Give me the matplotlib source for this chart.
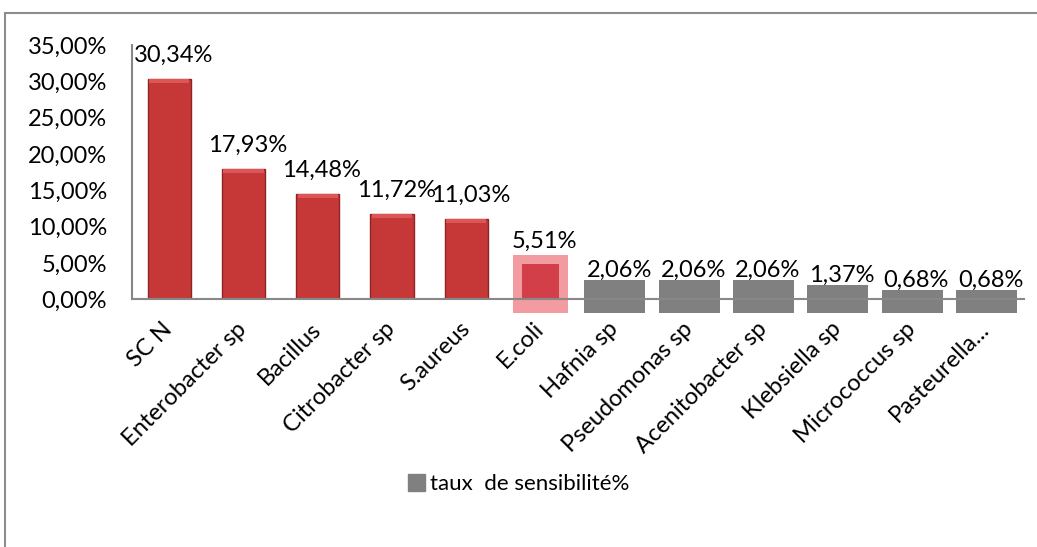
import numpy as np
import matplotlib.pyplot as plt
from matplotlib.patches import Rectangle, Patch
from matplotlib.ticker import FuncFormatter

# data
categories = ['SC N', 'Enterobacter sp', 'Bacillus', 'Citrobacter sp', 'S.aureus', 'E.coli',
              'Hafnia sp', 'Pseudomonas sp', 'Acenitobacter sp', 'Klebsiella sp',
              'Micrococcus sp', 'Pasteurella...']
values = [30.34, 17.93, 14.48, 11.72, 11.03, 5.51, 2.06, 2.06, 2.06, 1.37, 0.68, 0.68]
legend_label = 'taux  de sensibilité%'

plt.rcParams['font.family'] = ['Lato', 'DejaVu Sans']
fs = 17

fig = plt.figure(figsize=(10.37, 5.47), dpi=100)
ax = fig.add_axes([0.1273, 0.4528, 0.8597, 0.4649])

x = np.arange(len(categories))
vals = np.array(values)

# red bars (first five)
red = slice(0, 5)
ax.bar(x[red], vals[red], width=0.58, color='#c63838', edgecolor='#8e2424', linewidth=1.0, zorder=3)
# lighter cap to hint the bevel
ax.bar(x[red], np.full(5, 0.5), bottom=vals[red] - 0.5, width=0.54, color='#dc5656', linewidth=0, zorder=4)

# E.coli: blurred patch in the original (pale edge, darker core)
low = 1.93
ax.bar(x[5], vals[5] + 0.6 + low, bottom=-low, width=0.74, color='#f08a90', alpha=0.85,
       linewidth=0, zorder=3, clip_on=False)
ax.bar(x[5], vals[5] - 0.6, bottom=0, width=0.5, color='#c8202c', alpha=0.75,
       linewidth=0, zorder=3.2, clip_on=False)

# grey bars (pasted rectangles in the original)
grey = slice(6, 12)
ax.bar(x[grey], vals[grey] + 0.6 + low, bottom=-low, width=0.82, color='#808080',
       linewidth=0, zorder=3, clip_on=False)

def lab(v):
    return f'{v:.2f}%'.replace('.', ',')

for i, v in enumerate(values):
    if i < 5:
        off = 17
    elif i == 5:
        off = 13
    else:
        off = 10
    ax.annotate(lab(v), (x[i], v), xytext=(3, off), textcoords='offset points',
                ha='center', va='center', fontsize=fs, color='black', zorder=6,
                annotation_clip=False)

ax.set_xlim(-0.5, len(categories) - 0.5)
ax.set_ylim(0, 35)
ax.set_yticks(np.arange(0, 36, 5))
ax.yaxis.set_major_formatter(FuncFormatter(lambda v, p: lab(v)))
ax.tick_params(axis='y', length=0, pad=18, labelsize=fs)
ax.tick_params(axis='x', length=0, pad=19, labelsize=17)
ax.set_xticks(x)
ax.set_xticklabels(categories, rotation=45, ha='right', va='center', rotation_mode='anchor')

for s in ['top', 'right']:
    ax.spines[s].set_visible(False)
for s in ['left', 'bottom']:
    ax.spines[s].set_color('#888888')
    ax.spines[s].set_linewidth(1.5)
ax.spines['bottom'].set_zorder(3.5)

# outer chart border
fig.patches.append(Rectangle((5 / 1037, -0.1), 1.2, 1.1 - 13 / 547, transform=fig.transFigure,
                             fill=False, edgecolor='#8c8c8c', linewidth=1.5))

fig.legend(handles=[Patch(color='#808080', label=legend_label)], loc='center',
           bbox_to_anchor=(0.5, 0.115), frameon=False, fontsize=16,
           handlelength=0.8, handleheight=0.8, handletextpad=0.2)

fig.savefig('out.png', dpi=100)
